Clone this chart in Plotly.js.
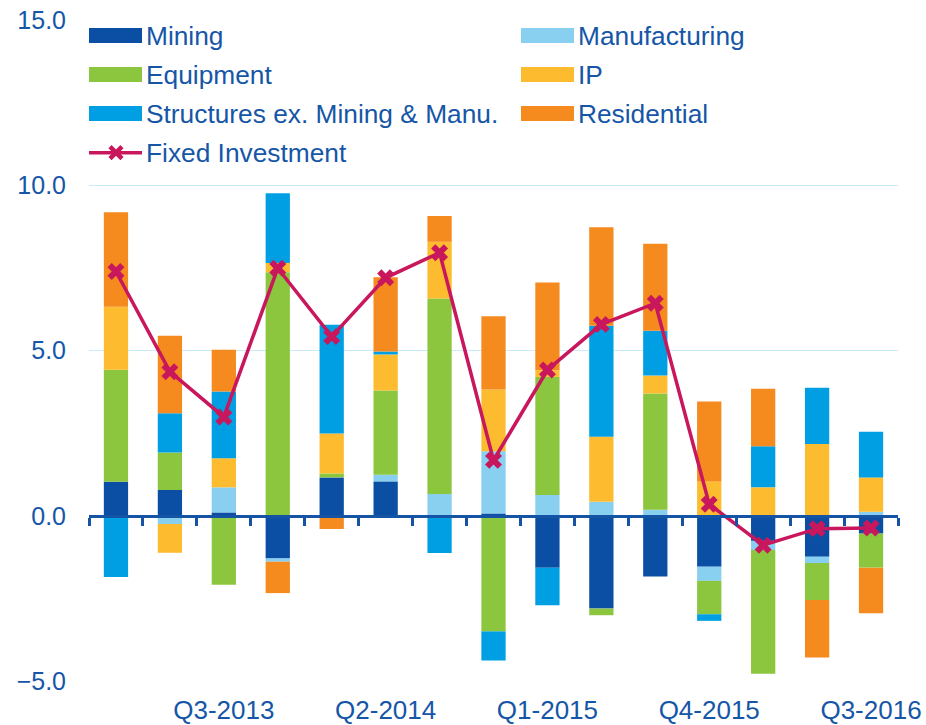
<!DOCTYPE html>
<html>
<head>
<meta charset="utf-8">
<script src="https://cdn.plot.ly/plotly-3.0.1.min.js"></script>
<style>html,body{margin:0;padding:0;background:#fff;}#chart{width:926px;height:725px;}</style>
</head>
<body>
<div id="chart"></div>
<script>
// ---- data ----
var quarters = ['Q1-2013','Q2-2013','Q3-2013','Q4-2013','Q1-2014','Q2-2014','Q3-2014','Q4-2014',
                'Q1-2015','Q2-2015','Q3-2015','Q4-2015','Q1-2016','Q2-2016','Q3-2016'];
var labelledQuarters = ['Q3-2013','Q2-2014','Q1-2015','Q4-2015','Q3-2016'];
var mining        = [1.03, 0.78, 0.10, -1.29, 1.16, 1.04, 0.00, 0.07, -1.57, -2.81, -1.84, -1.54, -0.76, -1.24, -0.54];
var manufacturing = [0.00, -0.25, 0.76, -0.10, 0.00, 0.20, 0.66, 1.88, 0.63, 0.42, 0.18, -0.43, -0.28, -0.19, 0.12];
var equipment     = [3.39, 1.13, -2.09, 7.37, 0.12, 2.55, 5.91, -3.50, 3.57, -0.20, 3.52, -1.01, -3.74, -1.12, -1.03];
var ip            = [1.90, -0.87, 0.88, 0.28, 1.21, 1.09, 1.72, 1.87, 0.20, 1.97, 0.54, 1.04, 0.86, 2.17, 1.04];
var structures    = [-1.85, 1.19, 2.02, 2.11, 3.29, 0.09, -1.13, -0.88, -1.14, 3.36, 1.36, -0.20, 1.24, 1.70, 1.38];
var residential   = [2.86, 2.35, 1.26, -0.95, -0.40, 2.25, 0.78, 2.22, 2.66, 2.98, 2.63, 2.42, 1.74, -1.74, -1.38];
var fixedInvestment = [7.39, 4.36, 2.99, 7.49, 5.42, 7.20, 7.96, 1.68, 4.41, 5.79, 6.43, 0.35, -0.89, -0.39, -0.37];
var yTicks = [-5, 0, 5, 10, 15];

var seriesNames = ['Mining','Manufacturing','Equipment','IP','Structures ex. Mining & Manu.','Residential'];
var seriesData  = [mining, manufacturing, equipment, ip, structures, residential];
var seriesColors = ['#0a4fa3','#89cff0','#8cc63f','#fdbb2f','#009fe3','#f58a1f'];
var lineColor = '#c8175d';
var textColor = '#1656a7';
var axisColor = '#1553a5';

// ---- geometry ----
var W = 926, H = 725;
var M = {l: 89, r: 28, t: 20, b: 44};
function px2x(px){ return (px - M.l) / (W - M.l - M.r); }
function py2y(py){ return 1 - (py - M.t) / (H - M.t - M.b); }
var yRange = [-5, 15];

var traces = [];
for (var i = 0; i < seriesNames.length; i++) {
  traces.push({
    type: 'bar', name: seriesNames[i], x: quarters, y: seriesData[i],
    marker: {color: seriesColors[i], line: {width: 0}},
    showlegend: false, hoverinfo: 'skip'
  });
}
traces.push({
  type: 'scatter', mode: 'lines+markers', name: 'Fixed Investment',
  x: quarters, y: fixedInvestment, xaxis: 'x2', yaxis: 'y',
  line: {color: lineColor, width: 3.5},
  marker: {symbol: 'x', size: 15, color: lineColor, line: {width: 0}},
  showlegend: false, hoverinfo: 'skip'
});

// ---- custom legend ----
var shapes = [], annotations = [];
var legendFont = {family: 'Liberation Sans, Arial, sans-serif', size: 26.3, color: textColor};
var legendItems = [
  {name: 'Mining', color: seriesColors[0], col: 0, row: 0},
  {name: 'Manufacturing', color: seriesColors[1], col: 1, row: 0},
  {name: 'Equipment', color: seriesColors[2], col: 0, row: 1},
  {name: 'IP', color: seriesColors[3], col: 1, row: 1},
  {name: 'Structures ex. Mining & Manu.', color: seriesColors[4], col: 0, row: 2},
  {name: 'Residential', color: seriesColors[5], col: 1, row: 2}
];
var colX = [89, 521];
var rowY = [35.5, 74.5, 113.5, 152.7];
legendItems.forEach(function(it){
  var x0 = colX[it.col], yc = rowY[it.row];
  shapes.push({type: 'rect', xref: 'paper', yref: 'paper',
    x0: px2x(x0), x1: px2x(x0 + 53), y0: py2y(yc - 7.5), y1: py2y(yc + 7.5),
    fillcolor: it.color, line: {width: 0}});
  annotations.push({xref: 'paper', yref: 'paper', x: px2x(x0 + 55), y: py2y(yc),
    xanchor: 'left', yanchor: 'middle', text: it.name, showarrow: false, font: legendFont});
});
// Fixed Investment legend entry
(function(){
  var x0 = 89, yc = rowY[3], xc = 116, s = 6;
  shapes.push({type: 'line', xref: 'paper', yref: 'paper',
    x0: px2x(x0), x1: px2x(x0 + 53), y0: py2y(yc), y1: py2y(yc),
    line: {color: lineColor, width: 3.5}});
  shapes.push({type: 'line', xref: 'paper', yref: 'paper',
    x0: px2x(xc - s), x1: px2x(xc + s), y0: py2y(yc - s), y1: py2y(yc + s),
    line: {color: lineColor, width: 4.5}});
  shapes.push({type: 'line', xref: 'paper', yref: 'paper',
    x0: px2x(xc - s), x1: px2x(xc + s), y0: py2y(yc + s), y1: py2y(yc - s),
    line: {color: lineColor, width: 4.5}});
  annotations.push({xref: 'paper', yref: 'paper', x: px2x(x0 + 55), y: py2y(yc),
    xanchor: 'left', yanchor: 'middle', text: 'Fixed Investment', showarrow: false, font: legendFont});
})();

var layout = {
  width: W, height: H,
  margin: M,
  paper_bgcolor: '#ffffff', plot_bgcolor: '#ffffff',
  barmode: 'relative', bargap: 0.55,
  showlegend: false, hovermode: false,
  font: {family: 'Liberation Sans, Arial, sans-serif', color: textColor},
  xaxis: {
    type: 'category', categoryorder: 'array', categoryarray: quarters,
    range: [-0.5, quarters.length - 0.5],
    tickmode: 'array', tickvals: labelledQuarters, ticktext: labelledQuarters,
    ticks: '', showgrid: false, zeroline: false, showline: false,
    tickfont: {size: 26, color: textColor}, ticklabelstandoff: 11
  },
  xaxis2: {
    overlaying: 'x', anchor: 'free', position: (0 - yRange[0]) / (yRange[1] - yRange[0]),
    type: 'category', categoryorder: 'array', categoryarray: quarters,
    range: [-0.5, quarters.length - 0.5],
    tickson: 'boundaries',
    ticks: 'outside', ticklen: 8, tickwidth: 3, tickcolor: axisColor,
    showline: true, linecolor: axisColor, linewidth: 3,
    showticklabels: false, showgrid: false, zeroline: false
  },
  yaxis: {
    range: yRange, tickmode: 'array', tickvals: yTicks, tickformat: '.1f',
    showgrid: true, gridcolor: '#c9ebfa', gridwidth: 1.5,
    zeroline: false, showline: false, ticks: '',
    tickfont: {size: 25, color: textColor}, ticklabelstandoff: 22
  },
  shapes: shapes,
  annotations: annotations
};

Plotly.newPlot('chart', traces, layout, {displayModeBar: false, staticPlot: true});
</script>
</body>
</html>
